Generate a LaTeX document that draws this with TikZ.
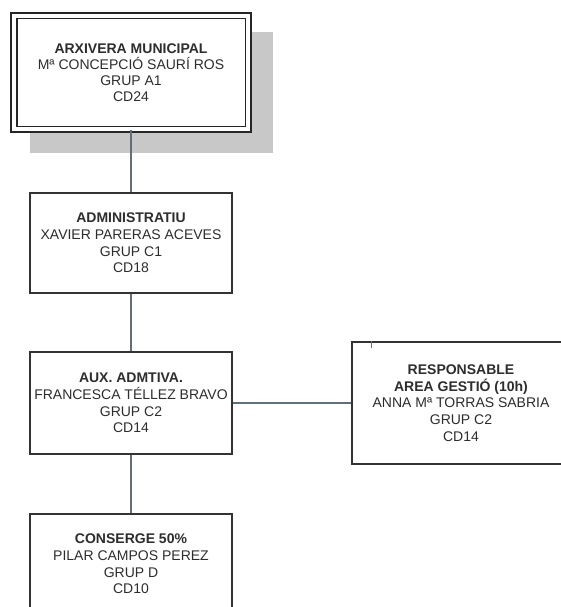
\documentclass[tikz,border=0pt]{standalone}
\usepackage{fontspec}
\setmainfont{Liberation Sans}
\usepackage{tikz}
\usetikzlibrary{positioning}

\definecolor{linkgray}{RGB}{95,112,120}
\definecolor{shadowgray}{RGB}{200,200,200}
\definecolor{textgray}{RGB}{45,45,45}

\begin{document}
\begin{tikzpicture}[
    x=1pt, y=-1pt,
    postbox/.style={rectangle, draw=black!80, line width=1.2pt, fill=white, inner sep=0pt,
                    text=textgray, align=center, font=\fontsize{14}{16.6}\selectfont},
    headbox/.style={postbox, draw=black!85, line width=1.6pt, double=white, double distance=4.3pt,
                    font=\fontsize{14}{16}\selectfont},
    link/.style={draw=linkgray, line width=1.2pt},
    ]

    \useasboundingbox (0,0) rectangle (561,607);
    \clip (0,0) rectangle (561,607);

    % shadow of the head box
    \fill[shadowgray] (30,32) rectangle (273,153);

    \node[headbox, minimum width=234.5pt, minimum height=113.5pt] (arxivera) at (131,72.5)
        {\textbf{ARXIVERA MUNICIPAL}\\Mª CONCEPCIÓ SAURÍ ROS\\GRUP A1\\CD24};
    \node[postbox, minimum width=202pt, minimum height=100pt] (admin) at (131,243)
        {\textbf{ADMINISTRATIU}\\XAVIER PARERAS ACEVES\\GRUP C1\\CD18};
    \node[postbox, minimum width=202pt, minimum height=102pt] (aux) at (131,403)
        {\textbf{AUX. ADMTIVA.}\\FRANCESCA TÉLLEZ BRAVO\\GRUP C2\\CD14};
    \node[postbox, minimum width=218pt, minimum height=122pt] (resp) at (461,403)
        {\textbf{RESPONSABLE}\\\textbf{AREA GESTIÓ (10h)}\\ANNA Mª TORRAS SABRIA\\GRUP C2\\CD14};
    \node[postbox, minimum width=202pt, minimum height=100pt] (conserge) at (131,564)
        {\textbf{CONSERGE 50\%}\\PILAR CAMPOS PEREZ\\GRUP D\\CD10};

    \coordinate[right=20pt of resp.north west] (tick);

    \draw[link] (arxivera) -- (admin);
    \draw[link] (admin) -- (aux);
    \draw[link] (aux) -- (conserge);
    \draw[link] (aux) -- (resp);
    \draw[link] (tick) -- ++(0,7);
\end{tikzpicture}
\end{document}
